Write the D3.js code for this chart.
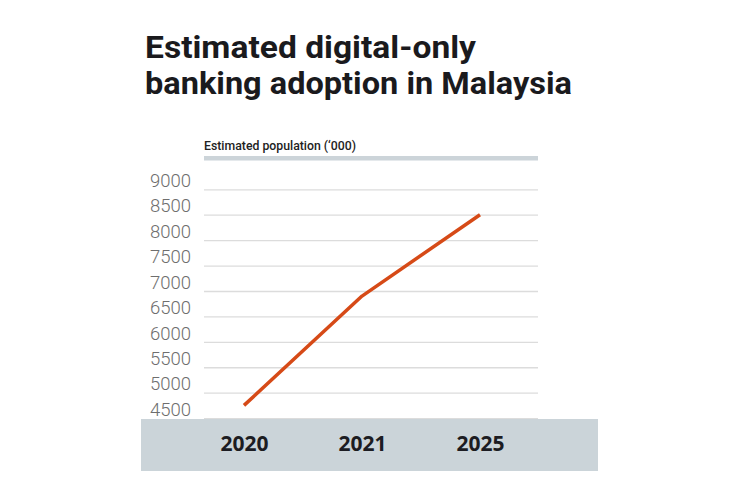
<!DOCTYPE html>
<html>
<head>
<meta charset="utf-8">
<script src="https://cdn.jsdelivr.net/npm/d3@7"></script>
<style>
  body { margin: 0; background: #fff; }
  svg { display: block; }
</style>
</head>
<body>
<div id="chart"></div>
<script>
// Data
const years = ["2020", "2021", "2025"];
const adoption = [4750, 6900, 8500];
const yTicks = [4500, 5000, 5500, 6000, 6500, 7000, 7500, 8000, 8500, 9000];
const titleLines = ["Estimated digital-only", "banking adoption in Malaysia"];
const axisTitle = "Estimated population (\u2018000)";

const W = 747, H = 498;
const plot = { left: 204, right: 538, top: 189.3, bottom: 418.1 };

const svg = d3.select("#chart").append("svg")
  .attr("width", W).attr("height", H);

// Title
svg.append("g").selectAll("text")
  .data(titleLines)
  .enter().append("text")
  .attr("x", 145)
  .attr("y", (d, i) => 58 + i * 35.5)
  .attr("textLength", (d, i) => i === 0 ? 331 : 427)
  .attr("lengthAdjust", "spacingAndGlyphs")
  .style("font-family", "Roboto, 'Liberation Sans', sans-serif")
  .style("font-weight", 700)
  .style("font-size", "32px")
  .style("fill", "#1a1a1d")
  .text(d => d);

// Axis title and bar
svg.append("text")
  .attr("x", 204).attr("y", 150)
  .attr("textLength", 152)
  .attr("lengthAdjust", "spacingAndGlyphs")
  .style("font-family", "Roboto, sans-serif")
  .style("font-weight", 500)
  .style("font-size", "13.5px")
  .style("fill", "#222")
  .text(axisTitle);

svg.append("rect")
  .attr("x", 204).attr("y", 156)
  .attr("width", 334).attr("height", 4.5)
  .attr("fill", "#ccd4d9");

// Scales
const x = d3.scalePoint()
  .domain(years)
  .range([244, 480]);

const y = d3.scaleLinear()
  .domain([4500, 9000])
  .range([plot.bottom, plot.top]);

// Grid lines
const yAxis = d3.axisLeft(y)
  .tickValues(yTicks)
  .tickSize(-(plot.right - plot.left))
  .tickPadding(13)
  .tickFormat(d3.format("d"));

const gy = svg.append("g")
  .attr("transform", `translate(${plot.left},0)`)
  .call(yAxis);
gy.select(".domain").remove();
gy.selectAll(".tick line")
  .attr("stroke", "#dcdcdc")
  .attr("stroke-width", 1.3);
gy.selectAll(".tick text")
  .attr("dy", "-0.15em")
  .style("font-family", "Roboto, sans-serif")
  .style("font-weight", 300)
  .style("font-size", "18.5px")
  .style("fill", "#6e6e6e");

// Bottom band with x labels
svg.append("rect")
  .attr("x", 141).attr("y", 419)
  .attr("width", 457).attr("height", 52)
  .attr("fill", "#cbd4d9");

const xAxis = d3.axisBottom(x).tickSize(0).tickPadding(0);
const gx = svg.append("g")
  .attr("transform", "translate(0,451)")
  .call(xAxis);
gx.select(".domain").remove();
gx.selectAll(".tick text")
  .attr("dy", 0)
  .style("font-family", "'Open Sans', Roboto, sans-serif")
  .style("font-weight", 700)
  .style("font-size", "21px")
  .style("fill", "#1c1c22");

// Line
const line = d3.line()
  .x((d, i) => x(years[i]))
  .y(d => y(d));

svg.append("path")
  .datum(adoption)
  .attr("d", line)
  .attr("fill", "none")
  .attr("stroke", "#d64a17")
  .attr("stroke-width", 3.5)
  .attr("stroke-linejoin", "round");
</script>
</body>
</html>
